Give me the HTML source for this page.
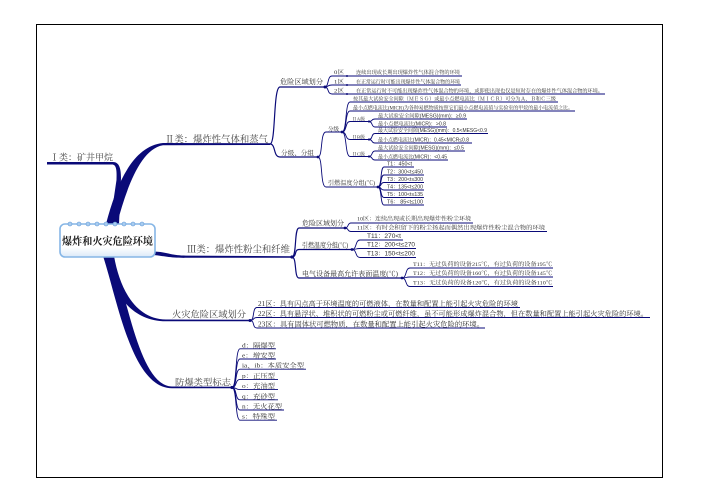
<!DOCTYPE html>
<html><head><meta charset="utf-8">
<style>
html,body{margin:0;padding:0;background:#fff;}
svg{display:block;}
text{font-family:"Liberation Serif","Noto Serif CJK SC",serif;fill:#333;}
.s{font-family:"Liberation Sans","Noto Serif CJK SC",sans-serif;}
.c{fill:none;stroke:#0a0a78;stroke-width:1.2;}
.l{fill:none;stroke:#0a0a78;stroke-width:0.9;}
.b{fill:#0a0a78;}
</style></head>
<body>
<svg width="702" height="496" viewBox="0 0 702 496" xmlns="http://www.w3.org/2000/svg">
<defs>
<linearGradient id="ng" x1="0" y1="0" x2="0" y2="1">
<stop offset="0" stop-color="#ffffff"/><stop offset="0.7" stop-color="#ffffff"/><stop offset="1" stop-color="#dbe9f8"/>
</linearGradient>
</defs>
<rect x="0" y="0" width="702" height="496" fill="#fff"/>
<rect x="36.5" y="24.5" width="626" height="453" fill="none" stroke="#000" stroke-width="1"/>

<!-- main branches -->
<path class="b" d="M47,162 L113,162 C119,162 121,168 121,178 L119,224 L110,224 L116.5,180 C117,169 116,164.5 112,164.5 L47,164.5 Z"/>
<path class="b" d="M106,224 C116,186 132,146 163,143 L270,143.3 L270,145 L163,145.3 C140,149 126,190 117,224 Z"/>
<path class="b" d="M154,251.5 C167,252 171,255.5 186,255.6 L292,256.2 L292,257.8 L186,257.8 C170,258 164,256 154,255 Z"/>
<path class="b" d="M114,256 C120,290 136,319 166,319.5 L250,319.8 L250,321.2 L166,321.3 C130,321 112,292 104,256 Z"/>
<path class="b" d="M112,256 C128,300 140,386 172,386.5 L232,386.8 L232,388.3 L172,388.3 C132,388 118,302 103,256 Z"/>

<!-- central node -->
<rect x="60" y="224" width="95" height="33" rx="5" fill="url(#ng)" stroke="#86b6e6" stroke-width="1.6"/>
<g fill="#a9cdf0" stroke="#5f97d6" stroke-width="0.6">
<circle cx="70" cy="224" r="2"/><circle cx="79" cy="224" r="2"/><circle cx="88" cy="224" r="2"/><circle cx="97" cy="224" r="2"/><circle cx="106" cy="224" r="2"/><circle cx="115" cy="224" r="2"/><circle cx="124" cy="224" r="2"/><circle cx="133" cy="224" r="2"/><circle cx="142" cy="224" r="2"/>
</g>
<text x="62" y="244.5" font-size="10.5" font-weight="bold" textLength="91" lengthAdjust="spacingAndGlyphs" style="fill:#1a1a1a">爆炸和火灾危险环境</text>

<!-- main labels -->
<text x="50" y="160.5" font-size="9" textLength="63" lengthAdjust="spacingAndGlyphs" style="fill:#444">Ⅰ类：矿井甲烷</text>
<text x="165" y="142.3" font-size="9.5" textLength="103" lengthAdjust="spacingAndGlyphs" style="fill:#444">Ⅱ类：爆炸性气体和蒸气</text>
<text x="187" y="252.5" font-size="9.5" textLength="103" lengthAdjust="spacingAndGlyphs" style="fill:#444">Ⅲ类：爆炸性粉尘和纤维</text>
<text x="172" y="317.5" font-size="9" textLength="74" lengthAdjust="spacingAndGlyphs" style="fill:#444">火灾危险区域划分</text>
<text x="175" y="385.3" font-size="9" textLength="56" lengthAdjust="spacingAndGlyphs" style="fill:#444">防爆类型标志</text>

<!-- II class sub-branches -->
<path class="c" d="M270,144 C276,144 273,87 280,87 L325,87"/>
<path class="c" d="M270,144 C276,144 273,157 280,157 L318,157"/>
<text x="280" y="84" font-size="7" textLength="43" lengthAdjust="spacingAndGlyphs">危险区域划分</text>
<text x="281" y="155" font-size="6.5" textLength="33" lengthAdjust="spacingAndGlyphs">分级、分组</text>

<path class="l" d="M325,87 C329,87 327,76 332,76 L462,76"/>
<path class="l" d="M325,87 C329,87 327,85 332,85 L461,85"/>
<path class="l" d="M325,87 C329,87 327,94 332,94 L605,94"/>
<g class="b"><circle cx="325" cy="87" r="1.5"/><circle cx="347" cy="76" r="1"/><circle cx="347" cy="85" r="1"/><circle cx="347" cy="94" r="1"/></g>
<text x="334" y="74" font-size="5.5" textLength="10" lengthAdjust="spacingAndGlyphs">0区</text>
<text x="334" y="83.5" font-size="5.5" textLength="10" lengthAdjust="spacingAndGlyphs">1区</text>
<text x="334" y="92.5" font-size="5.5" textLength="10" lengthAdjust="spacingAndGlyphs">2区</text>
<text x="356" y="74" font-size="5.3" textLength="104" lengthAdjust="spacingAndGlyphs">连续出现或长期出现爆炸性气体混合物的环境</text>
<text x="356" y="83.5" font-size="5.3" textLength="104" lengthAdjust="spacingAndGlyphs">在正常运行时可能出现爆炸性气体混合物的环境</text>
<text x="356" y="92.5" font-size="5.3" textLength="247" lengthAdjust="spacingAndGlyphs">在正常运行时不可能出现爆炸性气体混合物的环境，或即使出现也仅是短时存在的爆炸性气体混合物的环境。</text>

<path class="l" d="M318,157 C323,157 320,132 326,132 L342,132"/>
<path class="l" d="M318,157 C323,157 320,187 326,187 L378,187"/>
<circle class="b" cx="318" cy="157" r="1.4"/>
<text x="328" y="131" font-size="5.5" textLength="11" lengthAdjust="spacingAndGlyphs">分级</text>
<text x="328" y="185" font-size="6" textLength="47" lengthAdjust="spacingAndGlyphs">引燃温度分组(℃)</text>

<path class="l" d="M342,132 C347,132 345,102 350,102 L558,102"/>
<path class="l" d="M342,132 C347,132 345,111 350,111 L575,111"/>
<path class="l" d="M342,132 C347,132 345,121.5 350,121.5 L369,121.5"/>
<path class="l" d="M342,132 C347,132 345,139.5 350,139.5 L369,139.5"/>
<path class="l" d="M342,132 C347,132 345,156.5 350,156.5 L369,156.5"/>
<circle class="b" cx="342" cy="132" r="1.4"/>
<text x="353" y="100.5" font-size="5.3" textLength="203" lengthAdjust="spacingAndGlyphs">按其最大试验安全间隙（ＭＥＳＧ）或最小点燃电流比（ＭＩＣＲ）可分为Ａ、Ｂ和Ｃ三级</text>
<text x="353" y="109.5" font-size="5.3" textLength="220" lengthAdjust="spacingAndGlyphs">最小点燃电流比(MICR)为各种易燃物质按照它们最小点燃电流值与实验室的甲烷的最小电流值之比。</text>
<text x="352" y="120.3" font-size="4.5" textLength="13" lengthAdjust="spacingAndGlyphs">ⅡA级</text>
<text x="352" y="138.3" font-size="4.5" textLength="13" lengthAdjust="spacingAndGlyphs">ⅡB级</text>
<text x="352" y="155.3" font-size="4.5" textLength="13" lengthAdjust="spacingAndGlyphs">ⅡC级</text>

<path class="l" d="M369,121.5 C373,121.5 371,119 375,119 L467,119"/>
<path class="l" d="M369,121.5 C373,121.5 371,127 375,127 L447,127"/>
<path class="l" d="M369,139.5 C373,139.5 371,133.5 375,133.5 L488,133.5"/>
<path class="l" d="M369,139.5 C373,139.5 371,143 375,143 L472,143"/>
<path class="l" d="M369,156.5 C373,156.5 371,151 375,151 L465,151"/>
<path class="l" d="M369,156.5 C373,156.5 371,160 375,160 L448,160"/>
<g class="b"><circle cx="369" cy="121.5" r="1.1"/><circle cx="369" cy="139.5" r="1.1"/><circle cx="369" cy="156.5" r="1.1"/></g>
<text class="s" x="378" y="117.5" font-size="5.3" textLength="88" lengthAdjust="spacingAndGlyphs">最大试验安全间隙(MESG)(mm)：≥0.9</text>
<text class="s" x="378" y="125.5" font-size="5.3" textLength="68" lengthAdjust="spacingAndGlyphs">最小点燃电流比(MICR)：&gt;0.8</text>
<text class="s" x="378" y="132" font-size="5.3" textLength="109" lengthAdjust="spacingAndGlyphs">最大试验安全间隙(MESG)(mm)：0.5&lt;MESG&lt;0.9</text>
<text class="s" x="378" y="141.5" font-size="5.3" textLength="91" lengthAdjust="spacingAndGlyphs">最小点燃电流比(MICR)：0.45&lt;MICR≤0.8</text>
<text class="s" x="378" y="149.5" font-size="5.3" textLength="86" lengthAdjust="spacingAndGlyphs">最大试验安全间隙(MESG)(mm)：≤0.5</text>
<text class="s" x="378" y="158.5" font-size="5.3" textLength="69" lengthAdjust="spacingAndGlyphs">最小点燃电流比(MICR)：&lt;0.45</text>

<path class="l" d="M378,187 C382,187 380,167 384,167 L414,167"/>
<path class="l" d="M378,187 C382,187 380,175 384,175 L424,175"/>
<path class="l" d="M378,187 C382,187 380,182.5 384,182.5 L424,182.5"/>
<path class="l" d="M378,187 C382,187 380,190 384,190 L424,190"/>
<path class="l" d="M378,187 C382,187 380,197.5 384,197.5 L424,197.5"/>
<path class="l" d="M378,187 C382,187 380,205 384,205 L424,205"/>
<circle class="b" cx="378" cy="187" r="1.4"/>
<text class="s" x="387" y="165.5" font-size="5.5" textLength="25" lengthAdjust="spacingAndGlyphs">T1：450&lt;t</text>
<text class="s" x="387" y="173.3" font-size="5.5" textLength="36" lengthAdjust="spacingAndGlyphs">T2：300&lt;t≤450</text>
<text class="s" x="387" y="180.8" font-size="5.5" textLength="36" lengthAdjust="spacingAndGlyphs">T3：200&lt;t≤300</text>
<text class="s" x="387" y="188.3" font-size="5.5" textLength="36" lengthAdjust="spacingAndGlyphs">T4：135&lt;t≤200</text>
<text class="s" x="387" y="195.8" font-size="5.5" textLength="36" lengthAdjust="spacingAndGlyphs">T5：100&lt;t≤135</text>
<text class="s" x="387" y="203.3" font-size="5.5" textLength="36" lengthAdjust="spacingAndGlyphs">T6：  85&lt;t≤100</text>

<!-- III class -->
<path class="c" d="M292,257 C297,257 294,228 299,228 L345,228"/>
<path class="c" d="M292,257 C297,257 294,249.5 299,249.5 L352,249.5"/>
<path class="c" d="M292,257 C297,257 294,278 299,278 L402,278"/>
<circle class="b" cx="292" cy="257" r="1.6"/>
<text x="302" y="225.5" font-size="7" textLength="42" lengthAdjust="spacingAndGlyphs">危险区域划分</text>
<text x="302" y="247.3" font-size="7" textLength="46" lengthAdjust="spacingAndGlyphs">引燃温度分组(℃)</text>
<text x="302" y="275.8" font-size="6.8" textLength="96" lengthAdjust="spacingAndGlyphs">电气设备最高允许表面温度(℃)</text>

<path class="l" d="M345,228 C349,228 347,223 351,223 L473,223"/>
<path class="l" d="M345,228 C349,228 347,231.5 351,231.5 L547,231.5"/>
<circle class="b" cx="345" cy="228" r="1.4"/>
<text x="357" y="220.5" font-size="5.7" textLength="114" lengthAdjust="spacingAndGlyphs">10区：连续出现或长期出现爆炸性粉尘环境</text>
<text x="357" y="229.3" font-size="5.7" textLength="188" lengthAdjust="spacingAndGlyphs">11区：有时会积留下的粉尘扬起而偶然出现爆炸性粉尘混合物的环境</text>

<path class="l" d="M352,249.5 C357,249.5 355,240 360,240 L403,240"/>
<path class="l" d="M352,249.5 C357,249.5 355,248.5 360,248.5 L416,248.5"/>
<path class="l" d="M352,249.5 C357,249.5 355,257.5 360,257.5 L416,257.5"/>
<circle class="b" cx="352" cy="249.5" r="1.4"/>
<text class="s" x="367" y="238" font-size="6" textLength="34" lengthAdjust="spacingAndGlyphs">T11：270&lt;t</text>
<text class="s" x="367" y="246.7" font-size="6" textLength="48" lengthAdjust="spacingAndGlyphs">T12：200&lt;t≤270</text>
<text class="s" x="367" y="255.5" font-size="6" textLength="48" lengthAdjust="spacingAndGlyphs">T13：150&lt;t≤200</text>

<path class="l" d="M402,278 C407,278 405,268 410,268 L553,268"/>
<path class="l" d="M402,278 C407,278 405,277 410,277 L553,277"/>
<path class="l" d="M402,278 C407,278 405,286.5 410,286.5 L553,286.5"/>
<circle class="b" cx="402" cy="278" r="1.4"/>
<text x="413" y="266" font-size="5.6" textLength="139" lengthAdjust="spacingAndGlyphs">T11：无过负荷的设备215℃，有过负荷的设备195℃</text>
<text x="413" y="275" font-size="5.6" textLength="139" lengthAdjust="spacingAndGlyphs">T12：无过负荷的设备160℃，有过负荷的设备145℃</text>
<text x="413" y="284.5" font-size="5.6" textLength="139" lengthAdjust="spacingAndGlyphs">T13：无过负荷的设备120℃，有过负荷的设备110℃</text>

<!-- fire zones -->
<path class="l" d="M250,320.5 C255,320.5 252,307.5 257,307.5 L520,307.5"/>
<path class="l" d="M250,320.5 C255,320.5 252,317.5 257,317.5 L650,317.5"/>
<path class="l" d="M250,320.5 C255,320.5 252,328 257,328 L485,328"/>
<circle class="b" cx="250" cy="320.5" r="1.5"/>
<text x="258" y="305.8" font-size="7" textLength="260" lengthAdjust="spacingAndGlyphs">21区：具有闪点高于环境温度的可燃液体，在数量和配置上能引起火灾危险的环境</text>
<text x="258" y="315.8" font-size="7" textLength="390" lengthAdjust="spacingAndGlyphs">22区：具有悬浮状、堆积状的可燃粉尘或可燃纤维，虽不可能形成爆炸混合物，但在数量和配置上能引起火灾危险的环境。</text>
<text x="258" y="326.3" font-size="7" textLength="226" lengthAdjust="spacingAndGlyphs">23区：具有固体状可燃物质，在数量和配置上能引起火灾危险的环境。</text>

<!-- explosion-proof types -->
<path class="l" d="M232,387.5 C237,387.5 235,348.8 240,348.8 L276,348.8"/>
<path class="l" d="M232,387.5 C237,387.5 235,359 240,359 L276,359"/>
<path class="l" d="M232,387.5 C237,387.5 235,369.2 240,369.2 L306,369.2"/>
<path class="l" d="M232,387.5 C237,387.5 235,379.4 240,379.4 L278,379.4"/>
<path class="l" d="M232,387.5 C237,387.5 235,389.6 240,389.6 L278,389.6"/>
<path class="l" d="M232,387.5 C237,387.5 235,399.8 240,399.8 L278,399.8"/>
<path class="l" d="M232,387.5 C237,387.5 235,410 240,410 L284,410"/>
<path class="l" d="M232,387.5 C237,387.5 235,420.2 240,420.2 L277,420.2"/>
<circle class="b" cx="232" cy="387.5" r="1.6"/>
<text x="242" y="347.3" font-size="6.5" textLength="33" lengthAdjust="spacingAndGlyphs">d：隔爆型</text>
<text x="242" y="357.5" font-size="6.5" textLength="33" lengthAdjust="spacingAndGlyphs">e：增安型</text>
<text x="242" y="367.7" font-size="6.5" textLength="62" lengthAdjust="spacingAndGlyphs">ia、ib：本质安全型</text>
<text x="242" y="377.9" font-size="6.5" textLength="33" lengthAdjust="spacingAndGlyphs">p：正压型</text>
<text x="242" y="388.1" font-size="6.5" textLength="33" lengthAdjust="spacingAndGlyphs">o：充油型</text>
<text x="242" y="398.3" font-size="6.5" textLength="33" lengthAdjust="spacingAndGlyphs">q：充砂型</text>
<text x="242" y="408.5" font-size="6.5" textLength="40" lengthAdjust="spacingAndGlyphs">n：无火花型</text>
<text x="242" y="418.7" font-size="6.5" textLength="33" lengthAdjust="spacingAndGlyphs">s：特殊型</text>
</svg>
</body></html>
